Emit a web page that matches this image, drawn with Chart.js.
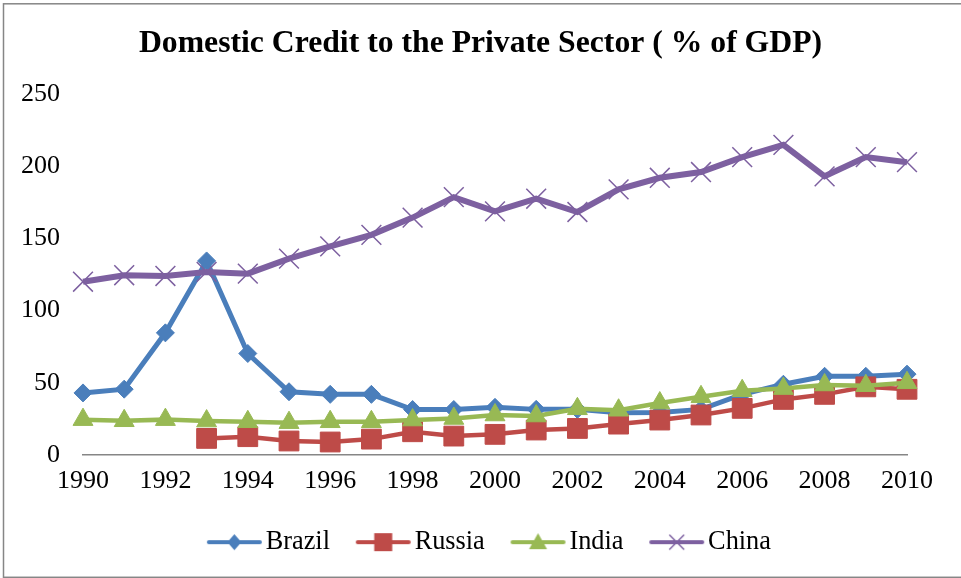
<!DOCTYPE html>
<html>
<head>
<meta charset="utf-8">
<script src="https://cdn.jsdelivr.net/npm/chart.js@4.4.0/dist/chart.umd.min.js"></script>
<style>
    html, body { margin: 0; padding: 0; background: #fff; }
    #wrap { width: 961px; height: 578px; position: relative; }
</style>
</head>
<body>
<div id="wrap"><canvas id="creditChart"></canvas></div>
<script>
const years = ['1990', '1991', '1992', '1993', '1994', '1995', '1996', '1997', '1998', '1999', '2000',
               '2001', '2002', '2003', '2004', '2005', '2006', '2007', '2008', '2009', '2010'];
const xTickYears = ['1990', '1992', '1994', '1996', '1998', '2000', '2002', '2004', '2006', '2008', '2010'];

const brazil = [43, 45.6, 84.6, 134.4, 70.3, 43.8, 42, 42, 31.5, 31.5, 33,
                31.6, 31.6, 29.3, 29.5, 31.6, 42, 49, 54.5, 54.5, 56];
const russia = [null, null, null, 11.5, 12.7, 9.7, 9, 11, 16.1, 13.1, 14.3,
                17.3, 18.4, 21.4, 24.2, 27.7, 32.3, 38.5, 42, 47.2, 45.5];
const india = [24.5, 23.7, 24.5, 23.5, 23, 22.4, 23, 23, 24.2, 25.3, 27.7,
               27, 32, 31, 36, 40.3, 44.5, 46, 48.5, 48, 50];
const china = [120, 124.5, 124, 126.8, 125.6, 136, 144.5, 152.5, 164.4, 178.6, 168.7,
               177.5, 168.3, 184, 192, 196, 206.3, 214.8, 193, 206.3, 202.8];

const colors = {
    brazil: '#4A7EBB',
    russia: '#BE4B48',
    india: '#98B954',
    china: '#7D60A0'
};

Chart.defaults.font.family = "'Liberation Serif', 'Times New Roman', serif";
Chart.defaults.color = '#000';

// legend swatch: a short line with the marker in the middle, like the office chart.
// the image is drawn centred on the legend box, so the line sits a bit left of centre
function legendIcon(color, marker) {
    const c = document.createElement('canvas');
    c.width = 60;
    c.height = 30;
    const g = c.getContext('2d');
    const mx = 28.5;
    g.strokeStyle = color;
    g.fillStyle = color;
    g.lineWidth = 4;
    g.lineCap = 'round';
    g.beginPath();
    g.moveTo(3, 15);
    g.lineTo(54, 15);
    g.stroke();
    g.beginPath();
    if (marker === 'diamond') {
        g.moveTo(mx, 7); g.lineTo(mx + 7, 15); g.lineTo(mx, 23); g.lineTo(mx - 7, 15);
        g.closePath(); g.fill();
    } else if (marker === 'square') {
        g.fillRect(mx - 9, 6, 18, 18);
    } else if (marker === 'triangle') {
        g.moveTo(mx, 6); g.lineTo(mx + 9, 22); g.lineTo(mx - 9, 22);
        g.closePath(); g.fill();
    } else {
        g.lineWidth = 1.5;
        g.moveTo(mx - 7, 8); g.lineTo(mx + 7, 22);
        g.moveTo(mx + 7, 8); g.lineTo(mx - 7, 22);
        g.stroke();
    }
    return c;
}

const icons = [
    legendIcon(colors.brazil, 'diamond'),
    legendIcon(colors.russia, 'square'),
    legendIcon(colors.india, 'triangle'),
    legendIcon(colors.china, 'cross')
];

// outer frame: left, top and bottom edges show, the right one is cut off
const frame = {
    id: 'frame',
    afterDraw(chart) {
        const c = chart.ctx;
        c.save();
        c.strokeStyle = '#868686';
        c.lineWidth = 1.5;
        c.strokeRect(3.5, 3.8, chart.width + 10, 573.5);
        c.restore();
    }
};

function series(label, data, color, style, radius, lineWidth, order) {
    return {
        label: label,
        data: data,
        borderColor: color,
        backgroundColor: color,
        borderWidth: lineWidth,
        pointStyle: style,
        pointRadius: radius,
        pointHoverRadius: radius,
        pointBorderWidth: style === 'crossRot' ? 1.5 : 1,
        pointBackgroundColor: color,
        pointBorderColor: color,
        tension: 0,
        clip: false,
        order: order
    };
}

new Chart(document.getElementById('creditChart'), {
    type: 'line',
    data: {
        labels: years,
        datasets: [
            series('Brazil', brazil, colors.brazil, 'rectRot', 9, 5, 4),
            series('Russia', russia, colors.russia, 'rect', 14, 4.5, 3),
            series('India', india, colors.india, 'triangle', 11.5, 4.5, 2),
            series('China', china, colors.china, 'crossRot', 14, 6, 1)
        ]
    },
    options: {
        responsive: true,
        maintainAspectRatio: false,
        animation: false,
        layout: {
            padding: { top: 0, left: 0, right: 0, bottom: 12.7 }
        },
        plugins: {
            title: {
                display: true,
                text: 'Domestic Credit to the Private Sector ( % of GDP)',
                font: { size: 31.7, weight: 'bold' },
                color: '#000',
                padding: { top: 24.5, bottom: 31.5 }
            },
            legend: {
                position: 'bottom',
                fullSize: false,
                labels: {
                    usePointStyle: true,
                    pointStyleWidth: 33.5,
                    padding: 38,
                    color: '#000',
                    font: { size: 26.3 },
                    generateLabels: chart => chart.data.datasets.map((ds, i) => ({
                        text: ds.label,
                        pointStyle: icons[i],
                        fillStyle: ds.borderColor,
                        strokeStyle: ds.borderColor,
                        lineWidth: 0,
                        hidden: false,
                        datasetIndex: i
                    }))
                }
            },
            tooltip: { enabled: false }
        },
        scales: {
            x: {
                grid: { display: false, drawTicks: false },
                border: { display: true, color: '#868686', width: 1.5 },
                ticks: {
                    autoSkip: false,
                    maxRotation: 0,
                    padding: 11,
                    color: '#000',
                    font: { size: 26 },
                    callback: function(value) {
                        const year = this.getLabelForValue(value);
                        return xTickYears.includes(year) ? year : '';
                    }
                },
                afterFit(scale) {
                    scale.height = 36;
                    scale.paddingRight = 54;
                }
            },
            y: {
                min: 0,
                max: 250,
                grid: { display: false, drawTicks: false },
                border: { display: false },
                ticks: {
                    stepSize: 50,
                    padding: 23,
                    color: '#000',
                    font: { size: 26 }
                },
                afterFit(scale) {
                    scale.width = 83;
                }
            }
        }
    },
    plugins: [frame]
});
</script>
</body>
</html>
